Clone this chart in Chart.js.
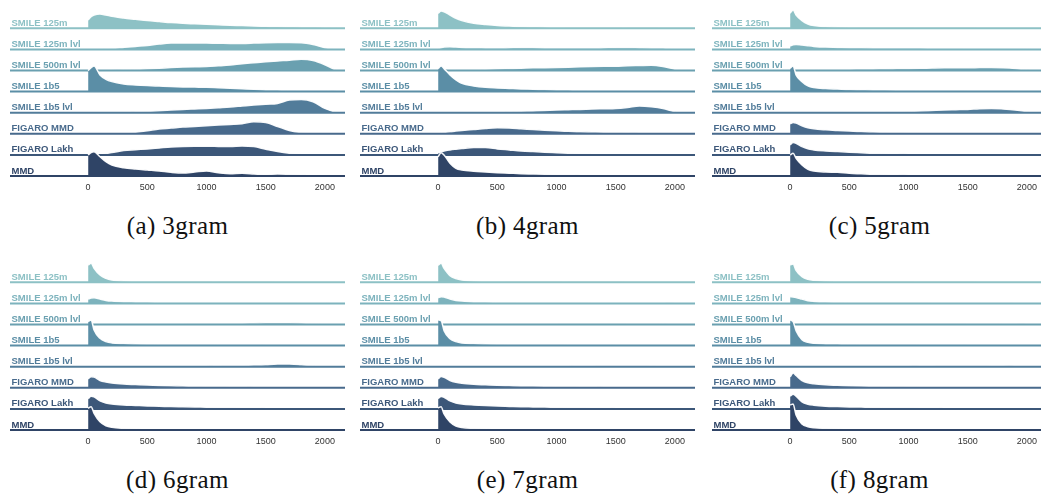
<!DOCTYPE html>
<html lang="en">
<head>
    <meta charset="UTF-8">
    <title>Ridgeline plots by n-gram</title>
    <script src="https://cdn.jsdelivr.net/npm/chart.js"></script>
    <style>
        body { margin: 0; background: #fff; overflow: hidden; width: 1041px; height: 498px; position: relative; }
        .panel { position: absolute; }
        .caption {
            position: absolute; width: 335px; text-align: center;
            font-family: "Liberation Serif", "DejaVu Serif", serif;
            font-size: 25px; letter-spacing: 0.4px; color: #111;
        }
    </style>
</head>
<body>
<script>
    // sample positions along the x axis
    var xGrid = [0, 25, 50, 100, 150, 200, 300, 400, 500, 600, 700, 800, 900, 1000,
                 1100, 1200, 1300, 1400, 1500, 1600, 1700, 1800, 1900, 2000, 2100];
    var xTicks = [0, 500, 1000, 1500, 2000];

    var models = ['SMILE 125m', 'SMILE 125m lvl', 'SMILE 500m lvl', 'SMILE 1b5',
                  'SMILE 1b5 lvl', 'FIGARO MMD', 'FIGARO Lakh', 'MMD'];
    var colors = ['#8dc1c5', '#7db3bd', '#6aa0b0', '#5b8ea6',
                  '#527c9a', '#486a8c', '#3c5779', '#2f4466'];

    var captions = ['(a) 3gram', '(b) 4gram', '(c) 5gram', '(d) 6gram', '(e) 7gram', '(f) 8gram'];

    // density heights, one row per model
    var gram3 = [
        [8.3, 11.7, 13.3, 14.3, 13.3, 12, 10.3, 9, 7.7, 6.7, 5.7, 5, 4.5, 4, 3.5, 3, 2.7, 2.3, 2, 1.7, 1.5, 1.3, 1.2, 1, 0.5],
        [0, 0, 0, 0.3, 0.7, 1, 2, 3, 4, 5.3, 6.3, 6.5, 6.5, 6.3, 6.2, 6, 6, 6.3, 6.7, 6.8, 6.8, 6.7, 5, 1.7, 0],
        [0.3, 0.3, 0.3, 0.3, 0.4, 0.5, 0.7, 1.2, 1.7, 2.3, 3, 3.5, 3.8, 4, 4.7, 5.5, 6.7, 7.7, 8.7, 9.6, 10.3, 11.3, 10, 5.7, 0],
        [21, 24, 25.7, 16.7, 12.3, 10, 7.7, 6.7, 6, 5.5, 5, 4.7, 4.5, 4.3, 3.8, 3.3, 2.8, 2.3, 1.7, 1.5, 1.3, 1.2, 1.1, 1, 0.5],
        [0, 0, 0, 0, 0.1, 0.3, 0.5, 0.9, 1.3, 2, 2.7, 3.3, 3.8, 4.3, 5, 5.7, 6.7, 7.7, 8.5, 9.3, 12.7, 13.3, 11, 4.3, 0],
        [0, 0, 0, 0, 0, 0.1, 0.3, 1.5, 3, 4.8, 5.7, 6.7, 7.3, 8, 8.7, 9.3, 10, 12, 11.3, 7.3, 3.3, 1.3, 0.7, 0.3, 0],
        [0, 0, 0.2, 0.7, 1.5, 2.3, 4.3, 5.2, 6, 7, 8, 8.5, 8.7, 8.7, 8.5, 8.3, 9, 8.3, 5.7, 3.3, 1.7, 1, 0.6, 0.3, 0],
        [21, 23.5, 24.3, 19.3, 14.3, 11, 8.3, 7, 6, 5, 3.7, 3, 4, 5, 3.3, 2.3, 2.7, 2, 1.3, 2, 1.7, 1.3, 1, 0.7, 0.3]
    ];
    var gram4 = [
        [15, 17.3, 16.5, 13.3, 10, 7.7, 5, 3.7, 2.7, 2.2, 1.7, 1.5, 1.3, 1, 0.9, 0.8, 0.8, 0.7, 0.7, 0.6, 0.5, 0.5, 0.4, 0.3, 0.2],
        [0.7, 1.7, 2.5, 2.7, 2.3, 2, 1.7, 1.5, 1.3, 1.6, 2, 1.8, 1.5, 1.3, 1.3, 1.3, 1.3, 1.6, 2, 1.9, 1.7, 1.5, 1.3, 0.3, 0],
        [0, 0.2, 0.5, 0.7, 0.8, 0.9, 1, 1.3, 1.7, 2, 2.3, 2.7, 2.8, 3, 3.3, 3.7, 4, 4.2, 4.3, 4.7, 5, 5.3, 4, 1.3, 0],
        [23, 25.7, 23, 16.7, 11.7, 8.3, 5.7, 4.3, 3.7, 3.2, 2.7, 2.4, 2, 1.7, 1.5, 1.3, 1.2, 1.1, 1, 0.9, 0.8, 0.8, 0.7, 0.7, 0.3],
        [0.3, 0.3, 0.3, 0.3, 0.3, 0.3, 0.4, 0.5, 0.7, 1, 1.4, 1.8, 2.2, 2.7, 3, 3.3, 3.7, 4, 4.3, 5.3, 6.7, 6, 4.3, 1, 0],
        [0.3, 1, 1.5, 2, 2.7, 3.3, 4.3, 5.3, 6, 5.7, 5, 4.3, 3.6, 3, 2.5, 2, 1.8, 1.6, 1.3, 1.1, 0.9, 0.7, 0.5, 0.3, 0],
        [2, 3, 4, 5, 5.7, 6.3, 7.3, 7.3, 6, 5, 4, 3.3, 2.7, 2.2, 1.7, 1.2, 1, 0.8, 0.7, 0.6, 0.5, 0.4, 0.3, 0.3, 0],
        [19.3, 23.3, 21, 12.7, 7.7, 6, 4.7, 4, 3.3, 2.8, 2.3, 2, 1.7, 1.3, 1.2, 1.1, 1, 0.8, 0.7, 0.6, 0.5, 0.4, 0.4, 0.3, 0.2]
    ];
    var gram5 = [
        [15, 18.3, 13.3, 7.7, 4.3, 2.7, 1.7, 1.3, 1, 0.9, 0.8, 0.8, 0.7, 0.7, 0.6, 0.6, 0.5, 0.5, 0.5, 0.4, 0.4, 0.4, 0.3, 0.3, 0.2],
        [3.3, 4.5, 5, 4.3, 3.6, 3, 2.3, 2, 1.7, 1.6, 1.5, 1.4, 1.4, 1.3, 1.3, 1.2, 1.1, 1.1, 1, 1, 0.9, 0.9, 0.8, 0.7, 0.3],
        [0.5, 0.7, 0.8, 1, 1, 1.1, 1.2, 1.3, 1.3, 1.5, 1.6, 1.8, 1.9, 2, 2.2, 2.5, 2.7, 2.7, 2.7, 2.9, 3, 2.7, 2, 0.7, 0],
        [23.3, 25.7, 16.7, 10, 5.7, 4, 3, 2.5, 2, 1.8, 1.6, 1.5, 1.4, 1.3, 1.2, 1.1, 1, 1, 0.9, 0.9, 0.8, 0.8, 0.7, 0.7, 0.3],
        [0.3, 0.3, 0.3, 0.3, 0.3, 0.3, 0.3, 0.3, 0.4, 0.5, 0.6, 0.8, 1, 1.3, 1.7, 2.2, 2.7, 3, 3.3, 4, 4.3, 3.7, 2.7, 1, 0],
        [10, 11.3, 10.7, 8, 6, 5, 4, 3.3, 2.7, 2.2, 1.7, 1.5, 1.2, 1, 0.9, 0.8, 0.8, 0.7, 0.7, 0.6, 0.5, 0.5, 0.4, 0.3, 0.2],
        [10, 12.3, 11.7, 8.3, 6, 5, 4, 3.3, 2.7, 2.2, 1.7, 1.5, 1.2, 1, 0.9, 0.8, 0.8, 0.7, 0.7, 0.6, 0.5, 0.5, 0.4, 0.3, 0.2],
        [21, 22.7, 17.7, 11, 6.7, 5, 4, 3.7, 2.7, 2.2, 1.7, 1.5, 1.2, 1, 0.9, 0.8, 0.8, 0.7, 0.6, 0.5, 0.5, 0.4, 0.4, 0.3, 0.2]
    ];
    var gram6 = [
        [17.3, 19, 14, 7.3, 4, 2.3, 1.3, 1.1, 1, 0.9, 0.8, 0.8, 0.7, 0.7, 0.6, 0.6, 0.5, 0.5, 0.5, 0.4, 0.4, 0.4, 0.3, 0.3, 0.2],
        [4.3, 5.3, 5.7, 4.3, 3, 2.3, 1.7, 1.5, 1.3, 1.2, 1.1, 1.1, 1, 1, 1, 0.9, 0.9, 0.9, 0.8, 0.8, 0.8, 0.7, 0.7, 0.7, 0.3],
        [0.5, 0.7, 0.7, 0.7, 0.7, 0.7, 0.7, 0.7, 0.7, 0.7, 0.8, 0.8, 0.9, 1, 1.1, 1.2, 1.3, 1.5, 1.7, 1.7, 1.7, 1.5, 1, 0.3, 0],
        [24, 25.7, 15.7, 7.3, 4, 2.7, 2, 1.6, 1.3, 1.2, 1.1, 1.1, 1, 1, 0.9, 0.9, 0.8, 0.8, 0.7, 0.7, 0.6, 0.6, 0.5, 0.5, 0.3],
        [0.3, 0.3, 0.3, 0.3, 0.3, 0.3, 0.3, 0.3, 0.3, 0.4, 0.4, 0.5, 0.6, 0.7, 0.9, 1.1, 1.3, 1.6, 2, 2.7, 2.7, 2, 1, 0.3, 0],
        [9, 11, 10.7, 7.3, 5.7, 4.7, 3.7, 3.2, 2.7, 2.3, 2, 1.8, 1.5, 1.3, 1.2, 1.1, 1, 0.9, 0.7, 0.7, 0.6, 0.5, 0.4, 0.3, 0.2],
        [10.3, 12.7, 12, 8, 6, 5, 4, 3.5, 3, 2.7, 2.3, 2.1, 1.9, 1.7, 1.5, 1.3, 1.2, 1.1, 1, 0.9, 0.8, 0.7, 0.6, 0.5, 0.3],
        [21.7, 23.3, 16.7, 8.3, 4.3, 2.7, 1.7, 1.3, 1, 0.9, 0.8, 0.8, 0.7, 0.7, 0.6, 0.6, 0.5, 0.5, 0.5, 0.4, 0.4, 0.4, 0.3, 0.3, 0.2]
    ];
    var gram7 = [
        [17, 19, 14, 6.7, 3.7, 2.3, 1.3, 1.1, 1, 0.9, 0.8, 0.8, 0.7, 0.7, 0.6, 0.6, 0.5, 0.5, 0.5, 0.4, 0.4, 0.4, 0.3, 0.3, 0.2],
        [5.7, 6.7, 6.3, 4.3, 3, 2.3, 1.5, 1.3, 1.2, 1.1, 1, 1, 0.9, 0.8, 0.8, 0.8, 0.7, 0.7, 0.7, 0.7, 0.6, 0.6, 0.6, 0.5, 0.3],
        [0.5, 0.7, 0.7, 0.7, 0.7, 0.7, 0.7, 0.7, 0.8, 0.8, 0.9, 1, 1, 1.1, 1.2, 1.2, 1.3, 1.3, 1.2, 1.1, 1, 0.9, 0.7, 0.3, 0],
        [25.7, 25, 15, 7, 4, 2.7, 2, 1.6, 1.3, 1.2, 1.1, 1.1, 1, 1, 0.9, 0.9, 0.8, 0.8, 0.7, 0.7, 0.6, 0.6, 0.5, 0.5, 0.3],
        [0.3, 0.3, 0.3, 0.3, 0.3, 0.3, 0.3, 0.3, 0.4, 0.4, 0.5, 0.5, 0.6, 0.7, 0.8, 0.9, 1, 1.2, 1.3, 1.3, 1.1, 0.9, 0.6, 0.3, 0],
        [9, 11.3, 10.5, 7.3, 5.5, 4.5, 3.5, 3, 2.5, 2.2, 1.9, 1.7, 1.5, 1.3, 1.2, 1.1, 1, 0.9, 0.7, 0.7, 0.6, 0.5, 0.4, 0.3, 0.2],
        [10.3, 12.3, 11.7, 8, 6, 5, 4, 3.3, 2.8, 2.5, 2.2, 2, 1.8, 1.6, 1.4, 1.3, 1.2, 1.1, 1, 0.9, 0.8, 0.7, 0.6, 0.5, 0.3],
        [22, 23.3, 16, 8, 4, 2.5, 1.7, 1.3, 1, 0.9, 0.8, 0.8, 0.7, 0.7, 0.6, 0.6, 0.5, 0.5, 0.5, 0.4, 0.4, 0.4, 0.3, 0.3, 0.2]
    ];
    var gram8 = [
        [17.3, 18.3, 12, 5.7, 3, 2, 1.3, 1.1, 1, 0.9, 0.8, 0.8, 0.7, 0.7, 0.6, 0.6, 0.5, 0.5, 0.5, 0.4, 0.4, 0.4, 0.3, 0.3, 0.2],
        [6.7, 6.5, 6, 4.3, 2.7, 2, 1.3, 1.1, 1, 0.9, 0.9, 0.9, 0.8, 0.8, 0.8, 0.7, 0.7, 0.7, 0.7, 0.6, 0.6, 0.6, 0.5, 0.5, 0.3],
        [1.3, 1.3, 1.3, 1.3, 1.3, 1.3, 1.3, 1.3, 1.3, 1.3, 1.3, 1.3, 1.3, 1.3, 1.3, 1.2, 1.2, 1.2, 1.1, 1, 0.9, 0.8, 0.7, 0.5, 0.2],
        [25.7, 24, 15, 6, 3.3, 2.3, 1.7, 1.5, 1.3, 1.2, 1.1, 1.1, 1, 1, 0.9, 0.9, 0.8, 0.8, 0.7, 0.7, 0.6, 0.6, 0.5, 0.5, 0.3],
        [0.5, 0.5, 0.5, 0.5, 0.5, 0.5, 0.5, 0.5, 0.5, 0.5, 0.6, 0.6, 0.7, 0.8, 0.9, 1, 1.1, 1.3, 1.3, 1.2, 1, 0.9, 0.7, 0.5, 0.2],
        [11, 14.7, 12.3, 7.3, 5, 4, 3, 2.5, 2, 1.7, 1.5, 1.3, 1.2, 1, 0.9, 0.8, 0.8, 0.7, 0.6, 0.6, 0.5, 0.5, 0.4, 0.3, 0.2],
        [12.7, 14.7, 12.7, 7, 4.7, 3.7, 2.7, 2.3, 2, 1.8, 1.6, 1.5, 1.4, 1.3, 1.2, 1.1, 1, 0.9, 0.8, 0.7, 0.7, 0.6, 0.5, 0.5, 0.3],
        [25, 26, 15, 6, 3.3, 2.3, 1.7, 1.3, 1, 0.9, 0.8, 0.8, 0.7, 0.7, 0.6, 0.6, 0.5, 0.5, 0.5, 0.4, 0.4, 0.4, 0.3, 0.3, 0.2]
    ];

    var panels = [gram3, gram4, gram5, gram6, gram7, gram8];

    // layout
    var ROW = 21.1;          // vertical gap between ridge baselines
    var X_MIN = -660, X_MAX = 2170;
    var W = 335, H = 196;
    var lefts = [10, 360, 712];
    var tops = [0, 254];

    // model names drawn at the left end of every baseline
    var rowLabels = {
        id: 'rowLabels',
        afterDatasetsDraw: function(chart) {
            var ctx = chart.ctx;
            var y = chart.scales.y;
            ctx.save();
            ctx.font = 'bold 9.5px "Liberation Sans", Arial, sans-serif';
            ctx.textAlign = 'left';
            ctx.textBaseline = 'alphabetic';
            models.forEach(function(name, k) {
                ctx.fillStyle = colors[k];
                ctx.fillText(name, chart.chartArea.left + 1.5, y.getPixelForValue((7 - k) * ROW) - 2.5);
            });
            ctx.restore();
        }
    };

    panels.forEach(function(rows, p) {
        var col = p % 3, row = Math.floor(p / 3);

        var box = document.createElement('div');
        box.className = 'panel';
        box.style.left = lefts[col] + 'px';
        box.style.top = tops[row] + 'px';
        var canvas = document.createElement('canvas');
        canvas.width = W;
        canvas.height = H;
        box.appendChild(canvas);
        document.body.appendChild(box);

        var cap = document.createElement('div');
        cap.className = 'caption';
        cap.textContent = captions[p];
        cap.style.left = lefts[col] + 'px';
        cap.style.top = (tops[row] + 212) + 'px';
        document.body.appendChild(cap);

        var datasets = [];
        rows.forEach(function(vals, k) {
            var base = (7 - k) * ROW;
            // ridge: filled down to its own baseline, white outline on top
            datasets.push({
                data: xGrid.map(function(x, i) { return { x: x, y: base + vals[i] }; }),
                fill: { value: base },
                backgroundColor: colors[k],
                borderColor: 'rgba(255,255,255,0.95)',
                borderWidth: 1.5,
                pointRadius: 0,
                cubicInterpolationMode: 'monotone',
                order: (7 - k) * 2 + 1
            });
            // baseline rule running the full width
            datasets.push({
                data: [{ x: X_MIN, y: base }, { x: X_MAX, y: base }],
                fill: false,
                borderColor: colors[k],
                borderWidth: 2,
                pointRadius: 0,
                order: (7 - k) * 2
            });
        });

        new Chart(canvas.getContext('2d'), {
            type: 'line',
            data: { datasets: datasets },
            options: {
                responsive: false,
                animation: false,
                devicePixelRatio: 1,
                layout: { padding: 0 },
                plugins: { legend: { display: false }, tooltip: { enabled: false } },
                scales: {
                    x: {
                        type: 'linear',
                        min: X_MIN,
                        max: X_MAX,
                        grid: { display: false, drawTicks: false },
                        border: { display: false },
                        afterBuildTicks: function(axis) {
                            axis.ticks = xTicks.map(function(v) { return { value: v }; });
                        },
                        afterFit: function(axis) { axis.height = 18; },
                        ticks: {
                            padding: 4,
                            maxRotation: 0,
                            autoSkip: false,
                            color: '#333',
                            font: { size: 9, family: '"Liberation Sans", Arial, sans-serif' },
                            callback: function(v) { return String(v); }
                        }
                    },
                    y: { display: false, min: -2, max: 176 }
                }
            },
            plugins: [rowLabels]
        });
    });
</script>
</body>
</html>
